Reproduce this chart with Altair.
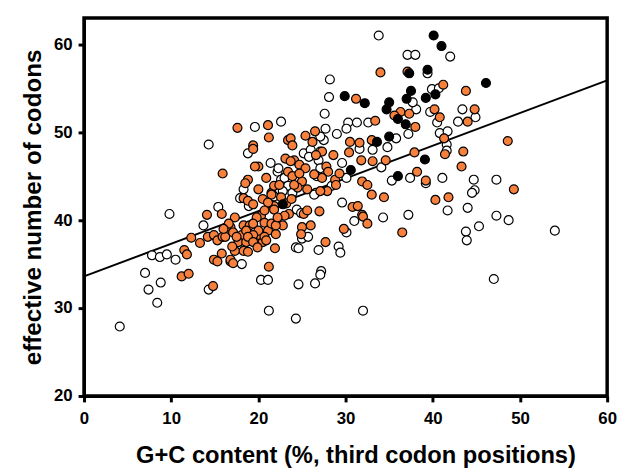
import altair as alt
import pandas as pd

# --- data ---
white_x = [19.6, 14.3, 33.8, 37.1, 38.0, 39.4, 28.2, 28.1, 39.9, 27.6, 38.1, 39.7, 37.2, 22.6,
           27.7, 27.5, 27.1, 29.0, 30.3, 31.3, 30.1, 32.6, 35.8, 42.0, 40.7, 40.5, 43.4, 44.9,
           42.9, 40.8, 41.7, 41.6, 41.6, 37.7, 34.8, 31.6, 33.1,
           41.1, 44.7, 47.3, 44.8, 44.5, 41.7, 44.0, 47.3, 48.7, 45.3, 43.8, 43.9, 54.0, 47.0,
           21.4, 25.2, 27.1, 26.9, 29.6, 34.1, 30.1, 35.3, 37.4, 24.4, 29.6, 31.0, 34.3, 37.2,
           30.1, 25.0, 24.3, 24.6, 26.9, 29.2, 29.4, 27.2, 22.2, 22.6, 26.6, 28.4, 26.4, 39.2,
           24.9, 25.7, 22.3, 23.0, 23.4, 23.9, 22.8, 21.8, 26.0, 25.8, 27.1, 26.7,
           18.8, 18.3, 17.9, 18.9, 15.4, 9.8, 13.7, 7.8, 8.7, 9.5, 10.5, 18.1, 7.0,
           8.8, 7.4, 8.4, 4.1, 14.3,
           20.3, 21.1, 24.6, 26.5, 27.1, 21.2, 24.3, 32.0]
white_y = [50.6, 48.6, 61.0, 58.8, 58.8, 56.7, 56.0, 54.0, 54.9, 52.1, 52.6, 52.3, 49.8, 51.2,
           50.4, 49.1, 49.5, 49.8, 51.1, 51.1, 50.4, 51.1, 49.3, 58.6, 55.0, 51.1, 52.6, 51.7,
           51.2, 49.9, 50.1, 48.6, 47.9, 53.4, 48.3, 48.1, 48.0,
           44.8, 44.6, 44.6, 43.4, 43.1, 41.1, 41.4, 40.5, 40.0, 39.3, 38.7, 37.7, 38.8, 33.3,
           46.5, 47.6, 47.8, 46.8, 46.5, 46.0, 44.8, 44.5, 44.8, 41.2, 42.0, 39.9, 40.3, 40.6,
           38.6, 37.9, 36.9, 36.8, 36.6, 37.0, 36.3, 34.2, 45.5, 44.6, 43.1, 43.9, 42.9, 44.2,
           40.8, 38.1, 45.9, 44.8, 43.9, 43.1, 43.3, 42.7, 48.0, 47.2, 45.9, 45.0,
           47.6, 43.5, 42.5, 41.6, 41.5, 40.7, 39.4, 36.0, 35.8, 36.1, 35.5, 35.0, 34.0,
           32.9, 32.1, 30.6, 27.9, 32.1,
           33.2, 33.2, 32.7, 32.8, 33.8, 29.7, 28.8, 29.7]

orange_x = [17.6, 19.4, 34.0, 37.1, 31.2, 36.3, 35.6, 37.3, 38.0, 21.1, 21.2, 23.4, 23.7, 25.4,
            26.5, 33.4, 26.2, 30.5, 31.6, 33.0, 23.9,
            41.2, 43.8, 40.2, 40.8, 44.8, 44.0, 41.3, 48.6,
            41.4, 43.5, 43.3, 49.3, 40.3, 41.8,
            20.0, 23.1, 28.6, 27.8, 28.0, 30.4, 31.8, 33.1, 34.6, 28.8, 28.9, 31.9, 32.5, 33.0,
            34.4, 38.2, 39.2, 37.9, 23.5, 25.2, 25.6, 27.0, 26.0, 25.0, 24.9, 30.8, 31.4, 31.9,
            32.0, 32.5, 36.5, 29.8, 27.7, 21.2,
            24.1, 24.7, 25.4, 23.4, 23.9, 25.0, 24.5, 25.6, 27.3, 27.9,
            20.0, 20.5, 21.5, 21.8, 20.3, 20.7, 21.1, 22.0, 20.1, 20.5, 22.8,
            19.4, 15.9, 18.8, 18.5, 19.6, 18.3, 18.8, 15.8, 14.1, 17.3, 12.3, 13.3, 14.2, 14.9,
            15.3, 15.9, 11.5, 11.8, 14.9, 15.3, 15.8, 16.8, 11.2, 12.0, 14.8,
            16.8, 17.1, 18.3, 18.1, 19.0, 17.7, 18.6, 18.3, 17.3, 18.8, 19.4,
            20.9, 21.8, 22.4, 21.5, 21.1, 21.8, 20.7, 19.8, 19.4, 16.6, 18.6, 20.0, 21.5, 22.0,
            20.7, 19.4, 18.8, 17.5, 16.2, 19.4, 20.9, 16.8, 17.1, 23.0, 22.2,
            23.7, 24.7, 24.1, 27.1, 27.3, 26.6,
            22.6, 23.2, 19.9, 17.0, 16.0, 21.9, 23.8, 26.4, 29.3]
orange_y = [50.5, 48.5, 56.8, 56.9, 53.8, 52.3, 51.9, 52.1, 50.6, 50.8, 49.4, 49.1, 49.3, 49.6,
            50.1, 51.3, 48.9, 48.9, 48.8, 49.1, 48.5,
            55.4, 54.7, 52.6, 51.7, 52.6, 51.2, 49.3, 49.0,
            47.5, 47.8, 46.1, 43.5, 42.3, 42.6,
            46.1, 47.0, 47.4, 46.1, 45.5, 47.7, 46.8, 46.7, 46.8, 44.6, 44.0, 44.4, 44.0, 42.9,
            42.6, 45.5, 44.5, 47.7, 40.7, 40.7, 41.1, 41.0, 39.4, 39.2, 38.4, 41.5, 41.6, 40.6,
            40.4, 39.6, 38.6, 39.0, 37.5, 34.7,
            46.8, 46.3, 45.9, 45.5, 45.0, 44.4, 43.7, 43.5, 44.8, 43.3,
            43.5, 42.4, 43.1, 41.6, 40.5, 39.7, 38.8, 38.4, 38.3, 37.5, 39.4,
            48.1, 45.3, 44.6, 44.2, 46.1, 42.5, 42.2, 40.7, 40.6, 40.3, 38.0, 37.4, 38.1, 38.3,
            37.7, 38.1, 36.6, 36.1, 35.5, 35.3, 36.2, 35.3, 33.6, 33.9, 32.5,
            39.2, 38.6, 39.4, 38.3, 39.4, 37.5, 37.5, 36.5, 36.5, 36.4, 41.8,
            44.8, 43.9, 44.0, 42.9, 42.0, 41.2, 41.1, 40.3, 39.6, 39.6, 38.8, 38.8, 39.6, 39.4,
            38.1, 38.3, 38.1, 38.1, 38.1, 37.5, 37.7, 35.5, 35.1, 40.5, 40.3,
            46.7, 45.3, 44.0, 43.3, 47.8, 47.4,
            42.6, 41.9, 36.9, 37.0, 39.0, 36.8, 42.4, 45.2, 45.3]

black_x = [40.1, 41.0, 37.3, 39.4, 29.9, 32.2, 35.0, 37.5, 37.0, 39.2, 40.3, 46.1, 34.7,
           36.0, 36.9, 33.6, 35.0, 30.6, 36.0, 39.1, 22.8]
black_y = [61.0, 59.8, 56.7, 57.1, 54.1, 53.3, 53.4, 54.7, 53.8, 53.9, 54.3, 55.6, 52.6,
           51.5, 50.9, 48.9, 49.5, 45.7, 45.0, 46.9, 41.8]

# regression line end points
line_x = [0, 60]
line_y = [33.6, 55.9]

x_ticks = [0, 10, 20, 30, 40, 50, 60]
y_ticks = [20, 30, 40, 50, 60]

FONT = "Liberation Sans"

white_df = pd.DataFrame({"x": white_x, "y": white_y})
orange_df = pd.DataFrame({"x": orange_x, "y": orange_y})
black_df = pd.DataFrame({"x": black_x, "y": black_y})
line_df = pd.DataFrame({"x": line_x, "y": line_y})

xs = alt.Scale(domain=[0, 60], nice=False, zero=False)
ys = alt.Scale(domain=[20, 63], nice=False, zero=False)

xenc = alt.X("x:Q", scale=xs, axis=alt.Axis(
    title="G+C content (%, third codon positions)", values=x_ticks, grid=False,
    labelFontSize=17, labelFontWeight="bold", labelFont=FONT, labelColor="black",
    titleFontSize=24, titleFontWeight="bold", titleFont=FONT, titleColor="black",
    titlePadding=17, labelPadding=9, tickSize=6, tickWidth=3, tickColor="black",
    domainColor="black", domainWidth=3, labelFlush=False, titleX=275))
yenc = alt.Y("y:Q", scale=ys, axis=alt.Axis(
    title="effective number of codons", values=y_ticks, grid=False,
    labelFontSize=17, labelFontWeight="bold", labelFont=FONT, labelColor="black",
    titleFontSize=24.5, titleFontWeight="bold", titleFont=FONT, titleColor="black",
    titlePadding=8, labelPadding=6, tickSize=6, tickWidth=3, tickColor="black",
    domainColor="black", domainWidth=3, labelFlush=False))

line = alt.Chart(line_df).mark_line(color="black", strokeWidth=2).encode(x=xenc, y=yenc)

def pts(df, fill):
    return alt.Chart(df).mark_circle(size=82, fill=fill, stroke="black",
                                     strokeWidth=1.2, opacity=1).encode(x=xenc, y=yenc)

chart = alt.layer(
    line,
    pts(white_df, "white"),
    pts(orange_df, "#F7803C"),
    pts(black_df, "black"),
).properties(
    width=530, height=383,
    autosize=alt.AutoSizeParams(type="none"),
    padding={"left": 77, "top": 7, "right": 12, "bottom": 76},
).configure_view(stroke="black", strokeWidth=3.5)

chart.save("out.html", embed_options={"renderer": "svg", "actions": False})
